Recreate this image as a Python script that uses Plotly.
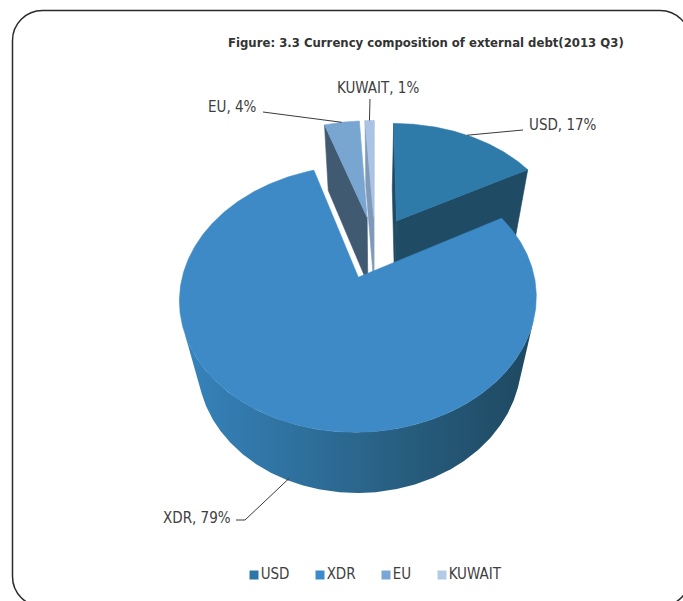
import numpy as np
import plotly.graph_objects as go

# ---- data -------------------------------------------------------------
currencies = ["USD", "XDR", "EU", "KUWAIT"]
shares = [17, 79, 4, 1]
title_text = "Figure: 3.3 Currency composition of external debt(2013 Q3)"

# ---- styling ----------------------------------------------------------
top_colors = ["#2E7AA9", "#3D8AC6", "#79A5D1", "#A9C4E4"]
wall_colors = ["#1F4B64", "#2A6890", "#405A72", "#7F99B8"]
legend_colors = ["#2D76A6", "#3B8ACB", "#79A6D5", "#B3CAE6"]
xdr_wall_scale = [[0.0, "#3683BC"], [0.35, "#2E6F9B"], [0.65, "#275C7D"], [1.0, "#1E4860"]]
FONT = "Liberation Sans Narrow, Arial Narrow, DejaVu Sans Condensed, sans-serif"
TEXT_COLOR = "#404040"

# ---- canvas / 3-D view -------------------------------------------------
W, H = 683, 601
CX, CY = 375.0, 247.0          # screen position of the pie axis
FOCAL = 764.0
DIST = 4.51                     # camera distance (pie radius = 1)
TILT = np.radians(45.2)         # camera elevation
THICK = 0.607                   # pie height
EXPLODE = 0.26                  # radial offset of each slice
S, C = np.sin(TILT), np.cos(TILT)
CAM = np.array([0.0, -DIST * C, DIST * S])


def project(x, y, z):
    x, y, z = np.asarray(x, float), np.asarray(y, float), np.asarray(z, float)
    depth = y * C - z * S + DIST
    return CX + FOCAL * x / depth, CY - FOCAL * (y * S + z * C) / depth


def facing(normal, point):
    return float(np.dot(normal, CAM - point)) > 0


fig = go.Figure()


def add_poly(xs, ys, color, gradient=None):
    kw = dict(x=list(xs) + [xs[0]], y=list(ys) + [ys[0]], mode="lines", fill="toself",
              hoverinfo="skip", showlegend=False)
    if gradient is not None:
        kw["fillgradient"] = dict(type="horizontal", colorscale=gradient)
        kw["line"] = dict(width=0)
    else:
        kw["fillcolor"] = color
        kw["line"] = dict(width=0.6, color=color)
    fig.add_trace(go.Scatter(**kw))


# slice angles, clockwise from 12 o'clock
total = float(sum(shares))
edges = np.concatenate([[0.0], np.cumsum(shares)]) / total * 2 * np.pi
slices = []
for i, name in enumerate(currencies):
    t0, t1 = edges[i], edges[i + 1]
    mid = 0.5 * (t0 + t1)
    ox, oy = EXPLODE * np.sin(mid), EXPLODE * np.cos(mid)
    slices.append(dict(i=i, name=name, t0=t0, t1=t1, mid=mid, ox=ox, oy=oy))

# paint far slices first
for sl in sorted(slices, key=lambda s: -s["oy"]):
    i, t0, t1, ox, oy = sl["i"], sl["t0"], sl["t1"], sl["ox"], sl["oy"]
    centre = np.array([ox, oy, 0.0])

    # radial walls
    for t, normal in ((t0, np.array([-np.cos(t0), np.sin(t0), 0.0])),
                      (t1, np.array([np.cos(t1), -np.sin(t1), 0.0]))):
        if facing(normal, centre):
            rx, ry = ox + np.sin(t), oy + np.cos(t)
            px, py = project([ox, rx, rx, ox], [oy, ry, ry, oy], [0, 0, -THICK, -THICK])
            add_poly(px, py, wall_colors[i])

    # curved outer wall (front-facing runs only)
    ts = np.linspace(t0, t1, max(int((t1 - t0) / np.radians(0.5)), 4))
    vis = np.array([facing(np.array([np.sin(t), np.cos(t), 0.0]),
                           np.array([ox + np.sin(t), oy + np.cos(t), -THICK / 2])) for t in ts])
    runs, start = [], None
    for k, v in enumerate(vis):
        if v and start is None:
            start = k
        if (not v or k == len(vis) - 1) and start is not None:
            end = k if v else k - 1
            if end > start:
                runs.append(ts[start:end + 1])
            start = None
    for run in runs:
        xs, ys = ox + np.sin(run), oy + np.cos(run)
        tx, ty = project(xs, ys, np.zeros_like(run))
        bx, by = project(xs, ys, np.full_like(run, -THICK))
        px = np.concatenate([tx, bx[::-1]])
        py = np.concatenate([ty, by[::-1]])
        add_poly(px, py, wall_colors[i], xdr_wall_scale if sl["name"] == "XDR" else None)

    # top face
    ta = np.linspace(t0, t1, max(int((t1 - t0) / np.radians(0.5)), 4))
    xs = np.concatenate([[ox], ox + np.sin(ta)])
    ys = np.concatenate([[oy], oy + np.cos(ta)])
    px, py = project(xs, ys, np.zeros_like(xs))
    add_poly(px, py, top_colors[i])

# ---- data labels with leader lines -------------------------------------
label_pos = {"USD": (527, 125, "left"), "XDR": (233, 518, "right"),
             "EU": (259, 107, "right"), "KUWAIT": (378, 88, "center")}
elbow = {"USD": (523, 130), "XDR": (236, 520), "EU": (263, 112), "KUWAIT": (370, 99)}
for sl in slices:
    name, mid, ox, oy = sl["name"], sl["mid"], sl["ox"], sl["oy"]
    rx, ry = ox + np.sin(mid), oy + np.cos(mid)
    if name == "XDR":
        ax, ay = project(rx, ry, -0.95 * THICK)
        lx, ly = [elbow[name][0], elbow[name][0] + 9, float(ax)], [elbow[name][1], elbow[name][1], float(ay)]
    else:
        ax, ay = project(rx, ry, 0.0)
        lx, ly = [elbow[name][0], float(ax)], [elbow[name][1], float(ay)]
    fig.add_trace(go.Scatter(x=lx, y=ly, mode="lines", line=dict(color="#3a3a3a", width=1),
                             hoverinfo="skip", showlegend=False))
    x, y, anchor = label_pos[name]
    fig.add_annotation(x=x, y=y, xref="x", yref="y", text=f"{name}, {shares[sl['i']]}%",
                       showarrow=False, xanchor=anchor, yanchor="middle",
                       font=dict(family=FONT, size=15, color=TEXT_COLOR))

# ---- legend row --------------------------------------------------------
LEGEND_X = [254, 320, 386, 442]
LEGEND_Y = 575
for name, col, lx in zip(currencies, legend_colors, LEGEND_X):
    fig.add_trace(go.Scatter(x=[lx], y=[LEGEND_Y], mode="markers+text", text=[name],
                             textposition="middle right",
                             textfont=dict(family=FONT, size=15, color=TEXT_COLOR),
                             marker=dict(symbol="square", size=9, color=col),
                             hoverinfo="skip", showlegend=False, cliponaxis=False))

# ---- title and frame ---------------------------------------------------
fig.add_annotation(x=426, y=42, xref="x", yref="y", text=f"<b>{title_text}</b>",
                   showarrow=False, xanchor="center", yanchor="middle",
                   font=dict(family=FONT, size=13, color="#333333"))

frame = ("M 12.5,576.5 L 12.5,40.5 C 12.5,23.9 25.9,10.5 42.5,10.5 "
         "L 660,10.5 C 676.6,10.5 690,23.9 690,40.5 L 690,576.5 "
         "C 690,593.1 676.6,606.5 660,606.5 L 42.5,606.5 "
         "C 25.9,606.5 12.5,593.1 12.5,576.5 Z")
fig.add_shape(type="path", path=frame, xref="x", yref="y",
              line=dict(color="#2b2b2b", width=1.5), fillcolor="rgba(0,0,0,0)", layer="above")

fig.update_layout(width=W, height=H, margin=dict(l=0, r=0, t=0, b=0),
                  paper_bgcolor="white", plot_bgcolor="white", showlegend=False)
fig.update_xaxes(range=[0, W], visible=False, fixedrange=True)
fig.update_yaxes(range=[H, 0], visible=False, fixedrange=True)

fig.write_html("out.html")
